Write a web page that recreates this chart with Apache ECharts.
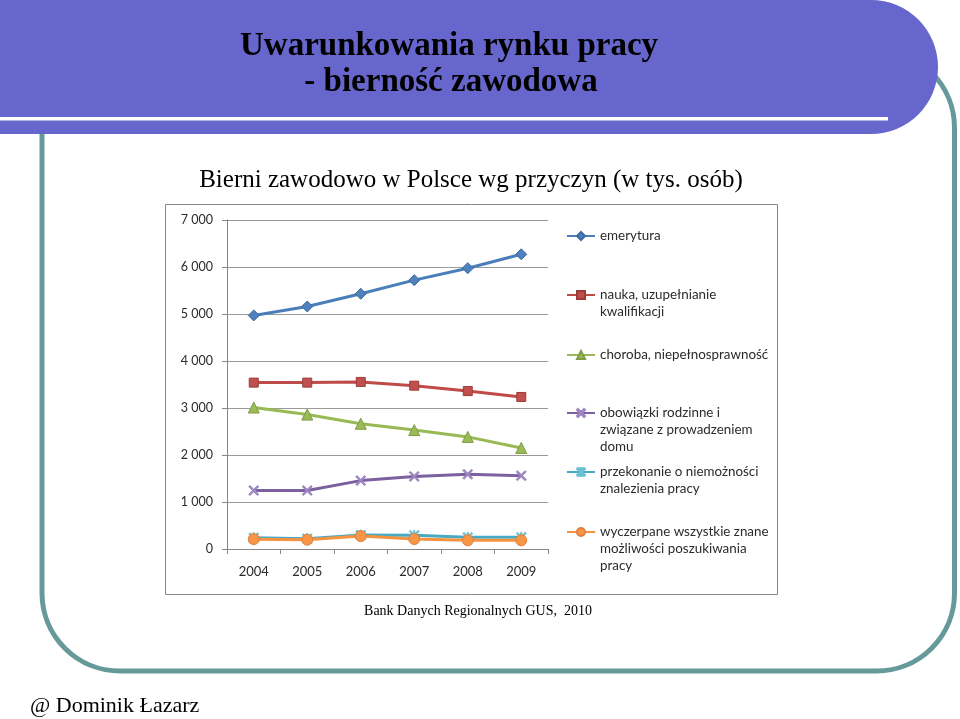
<!DOCTYPE html>
<html>
<head>
<meta charset="utf-8">
<style>
  html, body { margin: 0; padding: 0; background: #ffffff; }
  #chart { width: 960px; height: 719px; }
</style>
<script src="https://cdn.jsdelivr.net/npm/echarts@6/dist/echarts.min.js"></script>
</head>
<body>
<div id="chart"></div>
<script>
// ---- Data ----
var years = ['2004', '2005', '2006', '2007', '2008', '2009'];
var emerytura = [4970, 5160, 5430, 5720, 5975, 6270];
var nauka = [3540, 3540, 3555, 3475, 3360, 3235];
var choroba = [3010, 2860, 2665, 2530, 2385, 2150];
var obowiazki = [1245, 1245, 1455, 1545, 1590, 1560];
var przekonanie = [240, 220, 298, 290, 248, 248];
var wyczerpane = [210, 198, 275, 212, 185, 185];
var yTicks = [0, 1000, 2000, 3000, 4000, 5000, 6000, 7000];

var seriesNames = [
  'emerytura',
  'nauka, uzupełnianie kwalifikacji',
  'choroba, niepełnosprawność',
  'obowiązki rodzinne i związane z prowadzeniem domu',
  'przekonanie o niemożności znalezienia pracy',
  'wyczerpane wszystkie znane możliwości poszukiwania pracy'
];
var legendLabels = [
  'emerytura',
  'nauka, uzupełnianie\nkwalifikacji',
  'choroba, niepełnosprawność',
  'obowiązki rodzinne i\nzwiązane z prowadzeniem\ndomu',
  'przekonanie o niemożności\nznalezienia pracy',
  'wyczerpane wszystkie znane\nmożliwości poszukiwania\npracy'
];
var seriesValues = [emerytura, nauka, choroba, obowiazki, przekonanie, wyczerpane];

// ---- Styles ----
var lineColors = ['#4A7EBB', '#BE4B48', '#98B954', '#7D60A0', '#46AAC5', '#F69240'];
var markerColors = ['#4F81BD', '#C0504D', '#9BBB59', '#9D87C0', '#6FC0D6', '#F79646'];
var markerBorders = ['#3D6AA0', '#9E3B38', '#7E9C45', '#9D87C0', '#6FC0D6', '#E0803A'];
var xSym = 'path://M0,1.2L1.2,0L5,3.8L8.8,0L10,1.2L6.2,5L10,8.8L8.8,10L5,6.2L1.2,10L0,8.8L3.8,5Z';
var starSym = 'path://M0,1.2L1.2,0L4.4,3.2L4.4,0L5.6,0L5.6,3.2L8.8,0L10,1.2L6.2,5L10,8.8L8.8,10L5.6,6.8L5.6,10L4.4,10L4.4,6.8L1.2,10L0,8.8L3.8,5Z';
var symbols = ['diamond', 'rect', 'triangle', xSym, starSym, 'circle'];
var symbolSizes = [11, 9, 11, 10, 10, 11];

var legendCenters = [236, 295, 355, 413, 472, 532];
var LH = 17;

var font = 'Lato, "Open Sans", sans-serif';
var serif = '"Liberation Serif", "Times New Roman", serif';

var series = [];
var legends = [];
for (var i = 0; i < seriesNames.length; i++) {
  series.push({
    name: seriesNames[i],
    type: 'line',
    data: seriesValues[i],
    symbol: symbols[i],
    symbolSize: symbolSizes[i],
    showAllSymbol: true,
    lineStyle: { color: lineColors[i], width: 3 },
    itemStyle: { color: markerColors[i], borderColor: markerBorders[i], borderWidth: 1 },
    emphasis: { disabled: true },
    animation: false,
    z: 3 + i
  });
  var nLines = legendLabels[i].split('\n').length;
  var half = (2 * nLines - 1) * LH / 2;
  var prefix = '';
  for (var k = 1; k < nLines; k++) prefix += '\n';
  (function (idx, txt) {
    legends.push({
      data: [seriesNames[idx]],
      left: 566,
      top: legendCenters[idx] - half,
      padding: 0,
      itemWidth: 28,
      itemHeight: 10,
      selectedMode: false,
      formatter: function () { return txt; },
      textStyle: {
        fontFamily: font,
        fontSize: 13.4,
        color: '#2b2b2b',
        lineHeight: LH
      }
    });
  })(i, prefix + legendLabels[i]);
}

var chart = echarts.init(document.getElementById('chart'), null, { renderer: 'canvas' });
chart.setOption({
  backgroundColor: '#ffffff',
  animation: false,
  legend: legends,
  grid: { left: 227, top: 220, width: 321, height: 329, containLabel: false },
  xAxis: {
    type: 'category',
    data: years,
    boundaryGap: true,
    axisLine: { show: true, lineStyle: { color: '#868686', width: 1 } },
    axisTick: { show: true, length: 5, interval: 0, lineStyle: { color: '#868686' } },
    axisLabel: { margin: 16, fontFamily: font, fontSize: 13, color: '#2b2b2b', interval: 0 },
    splitLine: { show: false }
  },
  yAxis: {
    type: 'value',
    min: yTicks[0],
    max: yTicks[yTicks.length - 1],
    interval: 1000,
    axisLine: { show: true, lineStyle: { color: '#868686', width: 1 } },
    axisTick: { show: true, length: 5, lineStyle: { color: '#868686' } },
    axisLabel: {
      margin: 14, fontFamily: font, fontSize: 12.5, color: '#2b2b2b',
      formatter: function (v) {
        return v >= 1000 ? (Math.floor(v / 1000) + ' ' + String(v % 1000).padStart(3, '0')) : String(v);
      }
    },
    splitLine: { show: true, lineStyle: { color: '#9a9a9a', width: 1 } }
  },
  series: series,
  graphic: [
    { type: 'rect', z: -3, silent: true,
      shape: { x: 42, y: 50, width: 912.5, height: 621, r: 78 },
      style: { fill: 'none', stroke: '#669999', lineWidth: 5 } },
    { type: 'rect', z: -2, silent: true,
      shape: { x: -10, y: 0, width: 948, height: 134, r: [0, 67, 67, 0] },
      style: { fill: '#6666CC' } },
    { type: 'rect', z: -1, silent: true,
      shape: { x: 0, y: 117, width: 888, height: 3.5 },
      style: { fill: '#ffffff' } },
    { type: 'text', z: -1, silent: true,
      style: { text: 'Uwarunkowania rynku pracy', x: 449, y: 46, align: 'center', verticalAlign: 'middle',
               font: 'bold 33px ' + serif, fill: '#000000' } },
    { type: 'text', z: -1, silent: true,
      style: { text: '- bierność zawodowa', x: 451, y: 82, align: 'center', verticalAlign: 'middle',
               font: 'bold 33px ' + serif, fill: '#000000' } },
    { type: 'text', z: -1, silent: true,
      style: { text: 'Bierni zawodowo w Polsce wg przyczyn (w tys. osób)', x: 471, y: 180, align: 'center', verticalAlign: 'middle',
               font: '25px ' + serif, fill: '#000000' } },
    { type: 'rect', z: -2, silent: true,
      shape: { x: 165.5, y: 204.5, width: 612, height: 390 },
      style: { fill: '#ffffff', stroke: '#868686', lineWidth: 1 } },
    { type: 'text', z: -1, silent: true,
      style: { text: 'Bank Danych Regionalnych GUS,  2010', x: 478, y: 611, align: 'center', verticalAlign: 'middle',
               font: '14px ' + serif, fill: '#000000' } },
    { type: 'text', z: -1, silent: true,
      style: { text: '@ Dominik Łazarz', x: 30, y: 706, align: 'left', verticalAlign: 'middle',
               font: '22px ' + serif, fill: '#000000' } }
  ]
});
</script>
</body>
</html>
